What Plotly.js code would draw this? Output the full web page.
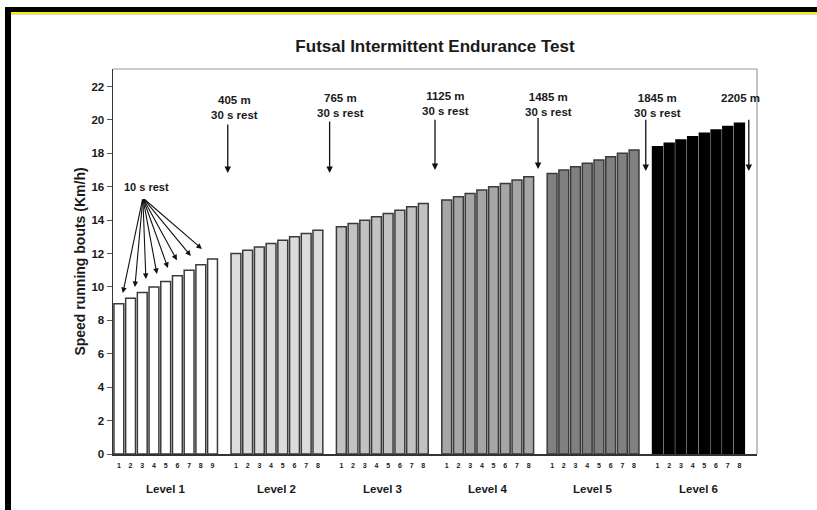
<!DOCTYPE html>
<html>
<head>
<meta charset="utf-8">
<script src="https://cdn.plot.ly/plotly-3.0.1.min.js"></script>
<style>
  html, body { margin: 0; padding: 0; background: #ffffff; }
  #wrap { position: relative; width: 817px; height: 510px; overflow: hidden; }
  #chart { position: absolute; left: 0; top: 0; width: 817px; height: 510px; }
  .bar-top { position: absolute; left: 5px; top: 7px; width: 812px; height: 5px; background: #000; }
  .bar-yel { position: absolute; left: 11px; top: 12px; width: 806px; height: 2px; background: #f5f000; }
  .bar-gry { position: absolute; left: 11px; top: 14px; width: 806px; height: 1px; background: #d8d8d8; }
  .bar-left { position: absolute; left: 5px; top: 7px; width: 6px; height: 503px; background: #000; }
</style>
</head>
<body>
<div id="wrap">
  <div id="chart"></div>
  <div class="bar-top"></div>
  <div class="bar-yel"></div>
  <div class="bar-gry"></div>
  <div class="bar-left"></div>
</div>
<script>
// ---- data ----
const levelNames = ['Level 1', 'Level 2', 'Level 3', 'Level 4', 'Level 5', 'Level 6'];
const level1Speed = [9.0, 9.33, 9.67, 10.0, 10.33, 10.67, 11.0, 11.33, 11.67];
const level2Speed = [12.0, 12.2, 12.4, 12.6, 12.8, 13.0, 13.2, 13.4];
const level3Speed = [13.6, 13.8, 14.0, 14.2, 14.4, 14.6, 14.8, 15.0];
const level4Speed = [15.2, 15.4, 15.6, 15.8, 16.0, 16.2, 16.4, 16.6];
const level5Speed = [16.8, 17.0, 17.2, 17.4, 17.6, 17.8, 18.0, 18.2];
const level6Speed = [18.4, 18.6, 18.8, 19.0, 19.2, 19.4, 19.6, 19.8];
const level1Bouts = ['1','2','3','4','5','6','7','8','9'];
const level2Bouts = ['1','2','3','4','5','6','7','8'];
const level3Bouts = ['1','2','3','4','5','6','7','8'];
const level4Bouts = ['1','2','3','4','5','6','7','8'];
const level5Bouts = ['1','2','3','4','5','6','7','8'];
const level6Bouts = ['1','2','3','4','5','6','7','8'];
const restLabels = ['405 m<br>30 s rest', '765 m<br>30 s rest', '1125 m<br>30 s rest',
                    '1485 m<br>30 s rest', '1845 m<br>30 s rest', '2205 m'];
const yTicks = [0, 2, 4, 6, 8, 10, 12, 14, 16, 18, 20, 22];

// ---- build ----
const speeds = [level1Speed, level2Speed, level3Speed, level4Speed, level5Speed, level6Speed];
const bouts = [level1Bouts, level2Bouts, level3Bouts, level4Bouts, level5Bouts, level6Bouts];
const fills = ['#ffffff', '#dcdcdc', '#c2c2c2', '#a6a6a6', '#808080', '#000000'];
const lines = ['#3a3a3a', '#3a3a3a', '#3a3a3a', '#3a3a3a', '#3a3a3a', '#000000'];

const F = 'Arial, "Liberation Sans", sans-serif';
const FN = '"Liberation Sans Narrow", "Arial Narrow", Arial, "Liberation Sans", sans-serif';

let traces = [];
let tickvals = [], ticktext = [], centers = [];
let offset = 0;
speeds.forEach((vals, k) => {
  const xs = vals.map((_, i) => offset + i);
  traces.push({
    type: 'bar', x: xs, y: vals, width: 0.84,
    marker: { color: fills[k], line: { color: lines[k], width: 1.5 } },
    name: levelNames[k], showlegend: false, hoverinfo: 'x+y'
  });
  xs.forEach((x, i) => { tickvals.push(x); ticktext.push(bouts[k][i]); });
  centers.push(offset + (vals.length - 1) / 2);
  offset += vals.length + 1;
});

const ann = [];
// level labels
levelNames.forEach((n, k) => {
  ann.push({ xref: 'x', yref: 'paper', x: centers[k], y: -0.091, text: '<b>' + n + '</b>',
    showarrow: false, font: { family: F, size: 11.5, color: '#1a1a1a' }, yanchor: 'middle' });
});
// vertical rest arrows
const arrowX = [9.3, 18.0, 27.0, 35.8, 45.0, 53.8];
const arrowTip = [16.83, 16.83, 17.0, 17.07, 16.95, 16.95];
const arrowTail = [19.82, 20.0, 20.1, 20.2, 20.1, 20.1];
const labX = [9.9, 18.9, 27.86, 36.67, 46.0, 53.1];
const labY = [20.72, 20.87, 21.0, 20.94, 20.85, 21.33];
restLabels.forEach((t, k) => {
  ann.push({ xref: 'x', yref: 'y', axref: 'x', ayref: 'y', x: arrowX[k], y: arrowTip[k],
    ax: arrowX[k], ay: arrowTail[k], text: '', showarrow: true, arrowhead: 2, arrowsize: 1,
    arrowwidth: 1.3, arrowcolor: '#111' });
  ann.push({ xref: 'x', yref: 'y', x: labX[k], y: labY[k], text: '<b>' + t + '</b>', showarrow: false,
    font: { family: F, size: 11.5, color: '#1a1a1a' }, align: 'center' });
});
// 10 s rest fan
ann.push({ xref: 'x', yref: 'y', x: 2.4, y: 16.0, text: '<b>10 s rest</b>', showarrow: false,
  font: { family: F, size: 11, color: '#1a1a1a' } });
const fanX = [0.34, 1.37, 2.31, 3.25, 4.19, 4.96, 6.15, 7.09];
const fanY = [9.64, 10.0, 10.48, 10.78, 11.14, 11.6, 11.86, 12.28];
fanX.forEach((x, i) => {
  ann.push({ xref: 'x', yref: 'y', axref: 'x', ayref: 'y', x: x, y: fanY[i], ax: 2.05, ay: 15.33,
    text: '', showarrow: true, arrowhead: 2, arrowsize: 1, arrowwidth: 1.1, arrowcolor: '#111' });
});

const layout = {
  width: 817, height: 510,
  margin: { l: 113, r: 60, t: 69, b: 56 },
  paper_bgcolor: '#ffffff', plot_bgcolor: '#ffffff',
  title: { text: '<b>Futsal Intermittent Endurance Test</b>', x: 0.5, xref: 'paper', y: 0.91, yanchor: 'middle',
    font: { family: FN, size: 17, color: '#1a1a1a' } },
  xaxis: { range: [-0.5, 54.5], tickmode: 'array', tickvals: tickvals, ticktext: ticktext,
    ticks: 'outside', ticklen: 4, tickcolor: 'rgba(0,0,0,0)', showgrid: false, zeroline: false,
    showline: true, linecolor: '#333', linewidth: 1.5,
    tickfont: { family: F, size: 7, color: '#1a1a1a', weight: 'bold' } },
  yaxis: { range: [0, 23.05], tickmode: 'array', tickvals: yTicks, ticks: 'outside', ticklen: 5,
    tickcolor: '#555', tickwidth: 1, showgrid: false, zeroline: false, showline: true,
    linecolor: '#333', linewidth: 1.5,
    tickfont: { family: F, size: 11.5, color: '#1a1a1a', weight: 'bold' },
    title: { text: '<b>Speed running bouts (Km/h)</b>', standoff: 2,
      font: { family: F, size: 14, color: '#1a1a1a' } } },
  shapes: [
    { type: 'line', xref: 'paper', yref: 'paper', x0: 0, x1: 1, y0: 1, y1: 1, line: { color: '#999', width: 1.2 } },
    { type: 'line', xref: 'paper', yref: 'paper', x0: 1, x1: 1, y0: 0, y1: 1, line: { color: '#999', width: 1.2 } }
  ],
  annotations: ann
};

Plotly.newPlot('chart', traces, layout, { displayModeBar: false, staticPlot: true });
</script>
</body>
</html>
